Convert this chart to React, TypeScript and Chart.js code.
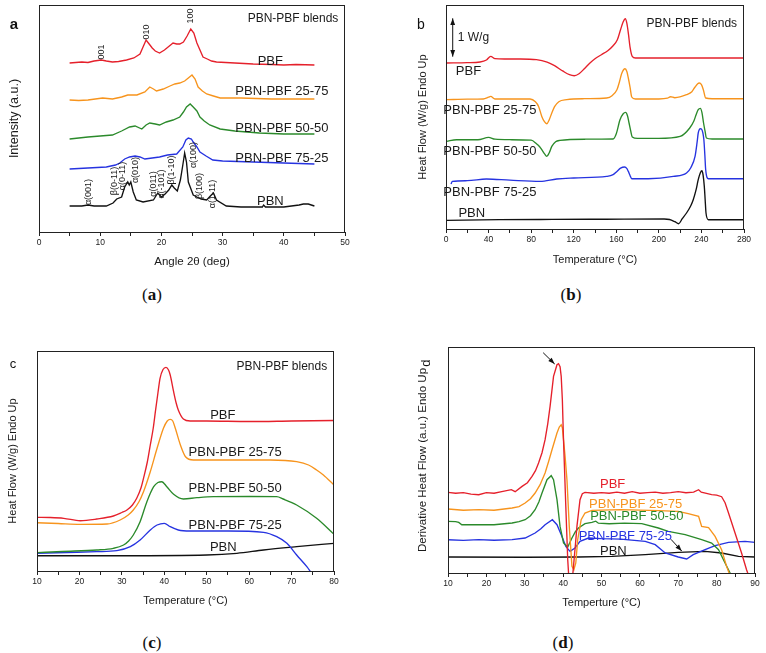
import React, { useEffect, useRef } from "react";
import { Chart, registerables } from "chart.js";
Chart.register(...registerables);

type Pt = [number, number];

// ---------- Panel a: XRD (Angle 2θ, deg ; intensity a.u.) ----------
const xrdPBF: Pt[] = [[5,169],[6,169.5],[7,170],[8,169.5],[9,171],[10.2,172],[11,171],[12,170],[13,170.5],[14.3,172],[15.5,174],[16.5,178],[17,185],[17.5,192],[18,188],[18.5,184],[19,181],[19.7,179],[20.5,182],[21.3,186],[21.9,189],[22.5,188],[23,188],[23.6,190],[24.2,196],[24.8,203],[25.3,199],[25.8,189],[26.3,182],[26.8,175],[27.5,173],[28.2,171],[29,170],[30.5,169.5],[32,169],[35,168],[38,167.5],[40,167],[42,167.5],[45,167]];
const xrd2575: Pt[] = [[5,132],[6.5,131.5],[8,132],[10.4,134],[12,133],[13.5,135],[14.5,137],[16,137],[17.3,140],[18.1,145],[18.7,143],[19.2,141],[20.3,143],[21.4,146],[22.2,148],[23,149],[23.8,151],[24.4,154],[25,157],[25.5,153],[26,145],[26.7,141],[27.4,138],[28.5,136],[29.6,134],[33,134],[38,133],[45,133]];
const xrd5050: Pt[] = [[5,93],[8,95],[10,96],[12,97],[13.5,101],[14.8,105],[15.7,106],[16.8,103],[17.5,107],[18.1,109],[19,108],[19.7,107],[20.8,110],[21.9,112],[23,115],[23.6,120],[24.1,125],[24.7,128],[25.2,125],[25.8,121],[26.3,115],[27,111],[27.9,107],[29.6,103],[32,101],[36,99],[40,98],[45,98]];
const xrd7525: Pt[] = [[5,63],[8,64],[11,65],[12.5,67],[13.2,69],[14,73],[14.8,75],[15.7,76],[16.5,75],[17.3,73],[18.5,74],[19.7,75],[21,77],[22.5,78],[23.5,85],[24,92],[24.4,94],[24.9,93],[25.2,90],[25.8,85],[26.3,80],[27.3,76],[28.4,72],[30,71],[35,70],[40,69],[45,68]];
const xrdPBN: Pt[] = [[5,26],[7,26],[8,27],[9,26],[11,26],[12.1,29],[12.7,33],[13.5,35],[14,45],[14.5,50],[14.75,47],[15,50],[15.4,40],[15.9,32],[17,30],[18.7,32],[19.4,39],[20,35],[20.6,38],[21.2,42],[21.7,47],[22.1,44],[22.6,41],[23.1,52],[23.5,67],[23.8,79],[24.1,70],[24.4,50],[25.2,37],[25.8,35],[26.5,33],[27.4,32],[28,36],[28.5,39],[29,32],[30.6,26],[33,25],[36.5,25],[36.7,27],[37,25],[40,25],[42.5,27],[43.2,28],[44,28],[45,26]];

// ---------- Panel b: DSC heating (°C ; W/g, offset) ----------
const dscPBF: Pt[] = [[0.5,166],[20,166.3],[32,167],[38,169],[42,172.6],[46,170.3],[55,170],[70,170],[85,169.3],[95,166.8],[102,163.3],[110,157.8],[116,154.3],[120.5,153.3],[125,155.3],[130,160.3],[135,165.8],[140,170.3],[146,174.3],[152,178.3],[157,183.3],[161,189.3],[164,199.3],[166.5,207.3],[168.5,210.3],[170,205.3],[171.5,194.3],[173,181.3],[175,172.6],[178,171],[200,171],[240,171],[280,171]];
const dsc2575: Pt[] = [[0.5,129.3],[20,129.8],[35,130],[40,131.8],[42,132.6],[46,130],[60,130],[79,130],[84,127.3],[87,122.6],[90,112.6],[92.5,107.3],[94.7,105.3],[97,109.3],[99.4,116],[102,122.3],[106,127.3],[113.5,129.3],[130,130.3],[151,131],[156,133.3],[160.6,139.3],[163,147.3],[165,155.3],[168.2,160.3],[170,157.3],[171.3,151],[173,141.3],[174.5,132],[178,130],[200,130],[208,130.8],[211,132.3],[215,131.3],[226,134.3],[231,137.3],[234,142],[236.5,145.3],[238,146],[240,144.3],[241.8,139.3],[244,131],[250,130.3],[280,130.3]];
const dsc5050: Pt[] = [[0.5,87.6],[10,89.3],[30,89.3],[40,91.6],[46,89.8],[60,89.3],[80,88.8],[85,85.3],[88,82.3],[90,79.3],[92.5,75.3],[94.7,72.6],[97,76.3],[99.4,82.6],[103,87.3],[107,88.6],[130,89.8],[157,90],[160,95.3],[163.5,109.3],[166.5,115.3],[168.8,116.6],[170.5,113.3],[172,106],[173.5,98.3],[175,92],[180,90.6],[200,90.6],[220,92.6],[229,101],[233,108.3],[235,114.3],[237,119.3],[239,120.6],[240.5,116.3],[242,106],[243.5,97.3],[244.6,91],[250,90],[280,90]];
const dsc7525: Pt[] = [[4.7,45],[6,47.6],[20,48.3],[38,50],[60,48.8],[88.5,47.6],[104,50],[120,51],[151,52.6],[157,54.3],[160.6,57.6],[164,60.8],[167.8,62],[170,60.3],[171.3,57.6],[173,53.3],[174.5,50.3],[190,50.3],[213.6,52.6],[226,56],[230,61.3],[234,72.6],[236,87.3],[237,96],[239,100.3],[240,100],[241.3,96.3],[242.3,89.3],[243.2,74.3],[244,59.3],[246.5,50.3],[280,50.3]];
const dscPBN: Pt[] = [[0.5,8.6],[50,9.3],[100,9.6],[150,9.8],[205,10],[210,9.5],[215,7.3],[218.6,5.3],[222,10.3],[226,16],[230,23.3],[232.3,29.3],[235,39.3],[237,49.3],[239,56.3],[240.5,58.3],[241.5,54.3],[242.7,42.6],[243.5,29.3],[244.3,16],[246.5,9.3],[280,9.3]];

// ---------- Panel c: DSC glass transition (°C) ----------
const tgPBF: Pt[] = [[10,53.7],[13,53.5],[16.3,52.7],[20.2,50.3],[24.1,52],[28,55],[30,58.5],[31.2,61],[32.5,66],[33.5,72.7],[34.5,83],[35.1,92.7],[36,109],[36.7,126],[37.4,143],[37.9,159.3],[38.5,178],[39,192.7],[39.7,201.5],[40.4,203.7],[41,201],[41.4,196],[42.2,179.3],[42.8,168],[43.3,161],[44.5,152],[46.1,150],[50,150],[60,149.5],[70,150],[80,150.5]];
const tg2575: Pt[] = [[10,48.3],[15,47.5],[20.2,46.7],[26.5,47],[29.6,51],[31.5,56],[32.7,61],[34,69],[35.1,79.3],[36.7,99.3],[38.3,122.7],[39.8,142.7],[40.7,150],[41.4,151.7],[42,150],[42.6,142.7],[43.8,126],[45,114.3],[46.9,111],[55,111],[65,111],[71.2,109.3],[74,106],[75.9,101],[77.5,96],[80,86]];
const tg5050: Pt[] = [[10,18.3],[16,19.5],[24.1,21],[28,22.7],[30.4,26],[31.6,30],[32.7,36],[34.3,49.3],[35.9,69.3],[37.5,84.3],[38.5,88.5],[39.4,89.3],[40.6,84.3],[42.2,76.7],[44.5,72],[47.7,73.3],[51.6,74.3],[60,74.5],[66.5,74.3],[68,72],[71.2,66],[75.9,52.7],[80,36.7]];
const tg7525: Pt[] = [[10,17.7],[17,18.5],[24.1,19.3],[28.8,20.3],[32,24.3],[34.3,31],[36.7,41],[38.3,46],[40,47.7],[41.4,44.3],[43.3,41],[46.1,40],[55,40],[63.4,38.7],[66.5,34.3],[68.9,27.7],[71.2,16],[73.6,4.3],[75,-4]];
const tgPBN: Pt[] = [[10,15.3],[30,15.3],[50,16],[57.1,17.7],[63.4,21],[71.2,24.3],[80,27.7]];

// ---------- Panel d: derivative heat flow (°C) ----------
const dhPBF: Pt[] = [[10,80.6],[12,79.8],[14,80.3],[16,78.8],[18,78.3],[20,80.3],[22,79.8],[24,81.3],[26.5,83.3],[27.5,81.3],[29.3,86.6],[30.7,90.3],[31.9,96.6],[32.8,102.3],[33.6,110],[34.5,120.3],[35.3,133.3],[36,149.3],[36.6,166.6],[37.5,196.6],[38.4,208.3],[38.8,209.3],[39.2,206.3],[39.5,196.6],[39.8,173.3],[40.1,133.3],[40.7,66.6],[41.2,13.3],[41.6,-11.7],[42,-16.7],[42.4,-6.7],[42.7,6.6],[43.2,28.3],[43.6,46.6],[44.4,73.3],[45,79.3],[45.7,80.6],[48,79.8],[50,80.3],[52,79.8],[54,80.8],[56,79.8],[58,81.3],[60,79.8],[62,80.3],[64,80.8],[66,79.8],[68,80.3],[70,81.3],[72,80.3],[74,80.8],[75.3,83.3],[76,80.8],[78.7,78.3],[80,77.8],[81.3,76.3],[82.2,70.3],[83.1,60],[84.8,40],[86.5,20],[87.8,3.3],[88.7,-6.7]];
const dh2575: Pt[] = [[10,64],[14,62.8],[18,63.3],[22,62.8],[26.7,65],[28.5,66.3],[30.1,70],[31.5,74.3],[32.7,80],[34,88.3],[35.3,100],[36.2,111.3],[37.1,123.3],[38.4,140],[39,146],[39.5,148.3],[39.8,145.3],[40.1,133.3],[40.5,117.3],[41,93.3],[41.6,46.6],[42.3,6.6],[42.8,3.3],[43.3,10],[43.8,33.3],[44.7,53.3],[45.7,60],[47.5,62.6],[50,62.8],[55,63.3],[60,62.8],[65,62.3],[70,61.6],[72.6,59.3],[75.3,56.6],[76.1,46.6],[77.9,45.3],[79.6,36.6],[81.3,23.3],[82.6,6.6],[83.9,-6.7]];
const dh5050: Pt[] = [[10,51.6],[12,51.3],[12.8,50.6],[13.6,48.3],[18,48.3],[22,48.3],[26.7,50],[28.5,51.3],[30.1,53.3],[31.5,57.3],[32.7,63.3],[33.7,71.3],[34.5,80],[35.8,93.3],[36.9,97.3],[37.5,93.3],[38.4,73.3],[39.2,46.6],[40.1,30],[41.2,26],[42.3,35],[43.2,41.3],[44,45],[45.7,49.3],[47.5,50.6],[48.5,51.8],[49.2,49.8],[52,49.3],[56,49.8],[60.5,49.3],[64.8,45],[67.4,41.6],[71.8,38.3],[76.1,33.3],[78.7,30],[80.5,23.3],[82.2,10],[83.5,0],[84.2,-6.7]];
const dh7525: Pt[] = [[10,33.3],[14,32.6],[18,33.3],[22,32.8],[26.7,33.3],[30.1,35],[32.7,40],[34.2,44.3],[35.3,48.3],[37.2,53.3],[38.4,48.3],[39.7,36.6],[40.7,26.6],[41.8,21.6],[43.1,25],[44.4,31.6],[46.6,35],[50,34.3],[55,33.8],[61.4,31.6],[64,28.3],[66.6,20],[70,16],[72.2,14],[73.9,18.3],[77,23.3],[79.6,27.3],[83.1,30.6],[87.4,31.6],[90,30.6]];
const dhPBN: Pt[] = [[10,16],[30,15.8],[44,16],[52.7,16.6],[61.4,18.3],[70,20.6],[77,21.6],[81.3,20],[85.7,16.6],[90,16]];

const SERIES_NAMES = ["PBF", "PBN-PBF 25-75", "PBN-PBF 50-50", "PBN-PBF 75-25", "PBN"];

const FONT = '"Liberation Sans", Arial, Helvetica, sans-serif';
const COL = { red: "#e5202b", orange: "#f7941d", green: "#2b8a2b", blue: "#2633e0", black: "#111111" };
const SERIES_COLORS = [COL.red, COL.orange, COL.green, COL.blue, COL.black];
const TEXT = "#1a1a1a";

type Label = { t: string; x: number; y: number; c?: string; s?: number; rot?: boolean; align?: CanvasTextAlign };
type Arrow = { x1: number; y1: number; x2: number; y2: number; both?: boolean };

const annotPlugin = {
  id: "annot",
  afterDatasetsDraw(chart: any, _args: any, opts: any) {
    const { ctx, chartArea: ca, scales } = chart;
    const xs = scales.x, ys = scales.y;
    ctx.save();
    ctx.strokeStyle = "#222";
    ctx.lineWidth = 1;
    ctx.strokeRect(Math.round(ca.left) + 0.5, Math.round(ca.top) + 0.5, Math.round(ca.right - ca.left) - 1, Math.round(ca.bottom - ca.top));
    const labels: Label[] = opts.labels || [];
    for (const l of labels) {
      const px = xs.getPixelForValue(l.x), py = ys.getPixelForValue(l.y);
      ctx.save();
      ctx.fillStyle = l.c || TEXT;
      ctx.font = `${l.s || 13}px ${FONT}`;
      ctx.textAlign = l.align || "center";
      ctx.textBaseline = "middle";
      ctx.translate(px, py);
      if (l.rot) ctx.rotate(-Math.PI / 2);
      ctx.fillText(l.t, 0, 0);
      ctx.restore();
    }
    const arrows: Arrow[] = opts.arrows || [];
    const head = (x: number, y: number, ang: number) => {
      ctx.beginPath();
      ctx.moveTo(x, y);
      ctx.lineTo(x - 7 * Math.cos(ang - 0.35), y - 7 * Math.sin(ang - 0.35));
      ctx.lineTo(x - 7 * Math.cos(ang + 0.35), y - 7 * Math.sin(ang + 0.35));
      ctx.closePath();
      ctx.fill();
    };
    ctx.strokeStyle = "#111";
    ctx.fillStyle = "#111";
    for (const a of arrows) {
      const x1 = xs.getPixelForValue(a.x1), y1 = ys.getPixelForValue(a.y1);
      const x2 = xs.getPixelForValue(a.x2), y2 = ys.getPixelForValue(a.y2);
      ctx.beginPath();
      ctx.moveTo(x1, y1);
      ctx.lineTo(x2, y2);
      ctx.stroke();
      const ang = Math.atan2(y2 - y1, x2 - x1);
      head(x2, y2, ang);
      if (a.both) head(x1, y1, ang + Math.PI);
    }
    ctx.restore();
  },
};

type Spec = {
  series: Pt[][];
  smooth: boolean;
  xMin: number; xMax: number; xStep: number; xMajor: number;
  yMax: number;
  xTitle: string; xTitleSize: number; xTitlePadB: number;
  yTitle: string; yTitleSize: number; yTitlePadT: number;
  pad: { left: number; top: number; right: number; bottom: number };
  wy: number; hx: number;
  labels: Label[]; arrows: Arrow[];
};

function buildConfig(s: Spec): any {
  return {
    type: "line",
    data: {
      datasets: s.series.map((pts, i) => ({
        label: SERIES_NAMES[i],
        data: pts.map(([x, y]) => ({ x, y })),
        borderColor: SERIES_COLORS[i],
        borderWidth: 1.35,
        pointRadius: 0,
        fill: false,
        tension: 0,
        cubicInterpolationMode: s.smooth ? "monotone" : "default",
      })),
    },
    options: {
      responsive: false,
      animation: false,
      events: [],
      layout: { padding: s.pad },
      plugins: { legend: { display: false }, tooltip: { enabled: false }, annot: { labels: s.labels, arrows: s.arrows } },
      scales: {
        x: {
          type: "linear",
          min: s.xMin, max: s.xMax,
          afterFit: (sc: any) => { sc.height = s.hx; },
          afterBuildTicks: (sc: any) => {
            const t = [];
            for (let v = s.xMin; v <= s.xMax + 1e-9; v += s.xStep) t.push({ value: v });
            sc.ticks = t;
          },
          ticks: {
            autoSkip: false, maxRotation: 0, padding: 2, color: TEXT,
            font: { family: FONT, size: 8.5 },
            callback: (v: number) => (Math.abs(v / s.xMajor - Math.round(v / s.xMajor)) < 1e-6 ? String(v) : ""),
          },
          grid: { display: true, drawOnChartArea: false, drawTicks: true, tickLength: 4, color: "#222", lineWidth: 1 },
          border: { display: false },
          title: { display: true, text: s.xTitle, color: TEXT, font: { family: FONT, size: s.xTitleSize }, padding: { top: 0, bottom: s.xTitlePadB } },
        },
        y: {
          type: "linear",
          min: 0, max: s.yMax,
          afterFit: (sc: any) => { sc.width = s.wy; },
          ticks: { display: false },
          grid: { display: false },
          border: { display: false },
          title: { display: true, text: s.yTitle, color: TEXT, font: { family: FONT, size: s.yTitleSize }, padding: { top: s.yTitlePadT, bottom: 0 } },
        },
      },
    },
    plugins: [annotPlugin],
  };
}

const specA: Spec = {
  series: [xrdPBF, xrd2575, xrd5050, xrd7525, xrdPBN], smooth: false,
  xMin: 0, xMax: 50, xStep: 5, xMajor: 10, yMax: 227,
  xTitle: "Angle 2θ (deg)", xTitleSize: 11.5, xTitlePadB: 11,
  yTitle: "Intensity (a.u.)", yTitleSize: 12.5, yTitlePadT: 7,
  pad: { left: 0, top: 5, right: 38, bottom: 0 }, wy: 39, hx: 48,
  labels: [
    { t: "PBN-PBF blends", x: 41.5, y: 213, s: 12 },
    { t: "PBF", x: 37.8, y: 171 },
    { t: "PBN-PBF 25-75", x: 39.7, y: 141 },
    { t: "PBN-PBF 50-50", x: 39.7, y: 104 },
    { t: "PBN-PBF 75-25", x: 39.7, y: 74 },
    { t: "PBN", x: 37.8, y: 31 },
    { t: "001", x: 10.25, y: 180, s: 9, rot: true },
    { t: "010", x: 17.5, y: 200, s: 9, rot: true },
    { t: "100", x: 24.7, y: 216, s: 9, rot: true },
    { t: "α(001)", x: 8.05, y: 40, s: 9, rot: true },
    { t: "β(0-11)", x: 12.4, y: 51, s: 9, rot: true },
    { t: "α(0-11)", x: 13.6, y: 56, s: 9, rot: true },
    { t: "α(010)", x: 15.8, y: 62, s: 9, rot: true },
    { t: "α(011)", x: 18.7, y: 48, s: 9, rot: true },
    { t: "α(-101)", x: 20.1, y: 48, s: 9, rot: true },
    { t: "β(1-10)", x: 21.6, y: 62, s: 9, rot: true },
    { t: "α(100)", x: 25.3, y: 77, s: 9, rot: true },
    { t: "β(100)", x: 26.3, y: 46, s: 9, rot: true },
    { t: "α(1-11)", x: 28.4, y: 38, s: 9, rot: true },
  ],
  arrows: [],
};

const specB: Spec = {
  series: [dscPBF, dsc2575, dsc5050, dsc7525, dscPBN], smooth: true,
  xMin: 0, xMax: 280, xStep: 20, xMajor: 40, yMax: 224,
  xTitle: "Temperature (°C)", xTitleSize: 11, xTitlePadB: 13,
  yTitle: "Heat Flow (W/g) Endo Up", yTitleSize: 11, yTitlePadT: 8,
  pad: { left: 25, top: 5, right: 22, bottom: 0 }, wy: 38, hx: 51,
  labels: [
    { t: "PBN-PBF blends", x: 230.9, y: 205, s: 12 },
    { t: "1 W/g", x: 11, y: 191, s: 12, align: "left" },
    { t: "PBF", x: 21.1, y: 158 },
    { t: "PBN-PBF 25-75", x: 41.3, y: 119 },
    { t: "PBN-PBF 50-50", x: 41.3, y: 78 },
    { t: "PBN-PBF 75-25", x: 41.3, y: 37 },
    { t: "PBN", x: 24.2, y: 16 },
  ],
  arrows: [{ x1: 6.3, y1: 172.3, x2: 6.3, y2: 210.7, both: true }],
};

const specC: Spec = {
  series: [tgPBF, tg2575, tg5050, tg7525, tgPBN], smooth: true,
  xMin: 10, xMax: 80, xStep: 5, xMajor: 10, yMax: 220,
  xTitle: "Temperature (°C)", xTitleSize: 11, xTitlePadB: 12,
  yTitle: "Heat Flow (W/g) Endo Up", yTitleSize: 11, yTitlePadT: 6,
  pad: { left: 0, top: 31, right: 49, bottom: 0 }, wy: 37, hx: 49,
  labels: [
    { t: "PBN-PBF blends", x: 67.7, y: 204.3, s: 12 },
    { t: "PBF", x: 53.8, y: 156 },
    { t: "PBN-PBF 25-75", x: 56.7, y: 118.7 },
    { t: "PBN-PBF 50-50", x: 56.7, y: 82.7 },
    { t: "PBN-PBF 75-25", x: 56.7, y: 46 },
    { t: "PBN", x: 53.9, y: 23.3 },
  ],
  arrows: [],
};

const specD: Spec = {
  series: [dhPBF, dh2575, dh5050, dh7525, dhPBN], smooth: false,
  xMin: 10, xMax: 90, xStep: 5, xMajor: 10, yMax: 226,
  xTitle: "Temperture (°C)", xTitleSize: 11, xTitlePadB: 10,
  yTitle: "Derivative Heat Flow (a.u.) Endo Up", yTitleSize: 11.5, yTitlePadT: 7,
  pad: { left: 26, top: 27, right: 11, bottom: 0 }, wy: 39, hx: 47,
  labels: [
    { t: "PBF", x: 52.9, y: 89, c: COL.red },
    { t: "PBN-PBF 25-75", x: 58.9, y: 69, c: COL.orange },
    { t: "PBN-PBF 50-50", x: 59.2, y: 57, c: COL.green },
    { t: "PBN-PBF 75-25", x: 56.2, y: 36.3, c: COL.blue },
    { t: "PBN", x: 53.1, y: 21.3, c: TEXT },
  ],
  arrows: [
    { x1: 34.8, y1: 220.3, x2: 37.8, y2: 209 },
    { x1: 68.1, y1: 33.7, x2: 70.9, y2: 22 },
  ],
};

function ChartPanel({ spec, left, top, width, height }: { spec: Spec; left: number; top: number; width: number; height: number }) {
  const ref = useRef<HTMLCanvasElement | null>(null);
  useEffect(() => {
    if (!ref.current) return;
    const chart = new Chart(ref.current, buildConfig(spec));
    return () => chart.destroy();
  }, [spec]);
  return (
    <canvas
      ref={ref}
      width={width}
      height={height}
      style={{ position: "absolute", left, top, width, height }}
    />
  );
}

function Caption({ letter, x, y }: { letter: string; x: number; y: number }) {
  return (
    <div style={{ position: "absolute", left: x - 30, top: y - 11, width: 60, textAlign: "center", fontFamily: '"Liberation Serif", "Times New Roman", serif', fontSize: 17, lineHeight: "22px", color: "#111" }}>
      (<b>{letter}</b>)
    </div>
  );
}

function PanelTag({ t, x, y, size, bold, rot }: { t: string; x: number; y: number; size: number; bold?: boolean; rot?: boolean }) {
  return (
    <div style={{ position: "absolute", left: x - 10, top: y - 10, width: 20, height: 20, lineHeight: "20px", textAlign: "center", fontFamily: FONT, fontSize: size, fontWeight: bold ? 700 : 400, color: "#111", transform: rot ? "rotate(-90deg)" : undefined }}>
      {t}
    </div>
  );
}

export default function App() {
  return (
    <div style={{ position: "absolute", left: 0, top: 0, width: 766, height: 653, background: "#ffffff", overflow: "hidden" }}>
      <ChartPanel spec={specA} left={0} top={0} width={383} height={280} />
      <ChartPanel spec={specB} left={383} top={0} width={383} height={280} />
      <ChartPanel spec={specC} left={0} top={320} width={383} height={300} />
      <ChartPanel spec={specD} left={383} top={320} width={383} height={300} />
      <PanelTag t="a" x={14} y={24} size={15} bold />
      <PanelTag t="b" x={421} y={24} size={14} />
      <PanelTag t="c" x={13} y={364} size={13} />
      <PanelTag t="d" x={426} y={363} size={13} rot />
      <Caption letter="a" x={152} y={295} />
      <Caption letter="b" x={571} y={295} />
      <Caption letter="c" x={152} y={643} />
      <Caption letter="d" x={563} y={643} />
    </div>
  );
}
